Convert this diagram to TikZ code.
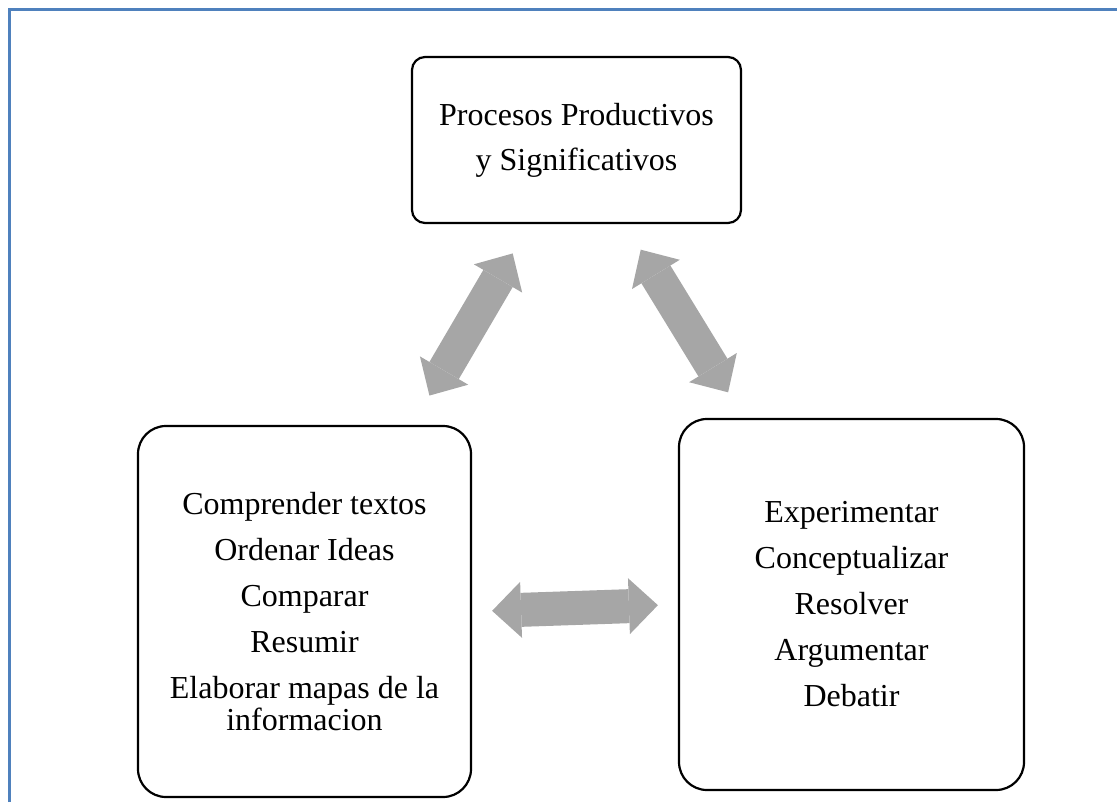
\documentclass[tikz,border=0pt]{standalone}
\usepackage{fontspec}
\setmainfont{Liberation Serif}
\usepackage{xcolor}
\usepackage{tikz}
\usetikzlibrary{arrows.meta, positioning}
\definecolor{frameblue}{RGB}{79,129,189}
\definecolor{arrgray}{RGB}{166,166,166}
\tikzset{
  topbox/.style={rectangle, draw=black, line width=1.1pt, rounded corners=6.5pt,
                 minimum width=164.5pt, minimum height=83pt, align=center,
                 font=\fontsize{16}{22.5}\selectfont},
  sidebox/.style={rectangle, draw=black, line width=1.1pt, rounded corners=14pt,
                  minimum height=185.5pt, align=center,
                  font=\fontsize{16}{23}\selectfont},
  dblarr/.style={{Triangle[length=14.5pt, width=28pt, line width=0pt]}-{Triangle[length=14.5pt, width=28pt, line width=0pt]},
                 line width=17pt, draw=arrgray},
}

\begin{document}
\begin{tikzpicture}[x=0.5pt, y=-0.5pt]
\useasboundingbox (0,0) rectangle (1117,802);
% marco
\draw[frameblue, line width=1.5pt] (9.5,802) -- (9.5,10) -- (1117,10);

% cajas
\node[topbox] (proc) at (576.5,140) {Procesos Productivos\\y Significativos};
\node[sidebox, minimum width=166.5pt] (comp) at (304.5,611.5)
  {Comprender textos\\Ordenar Ideas\\Comparar\\Resumir\\Elaborar mapas de la\\[-7pt]informacion};
\node[sidebox, minimum width=172.5pt] (expe) at (851.5,604.5)
  {Experimentar\\Conceptualizar\\Resolver\\Argumentar\\Debatir};

% flechas
\draw[dblarr, shorten <=17pt, shorten >=17pt] (comp.60) -- (proc.241);
\draw[dblarr, shorten <=15pt, shorten >=15pt] (proc.300.6) -- (expe.120.4);
\draw[dblarr, shorten <=10pt, shorten >=10pt] (comp.east) -- (expe.west);
\end{tikzpicture}
\end{document}
